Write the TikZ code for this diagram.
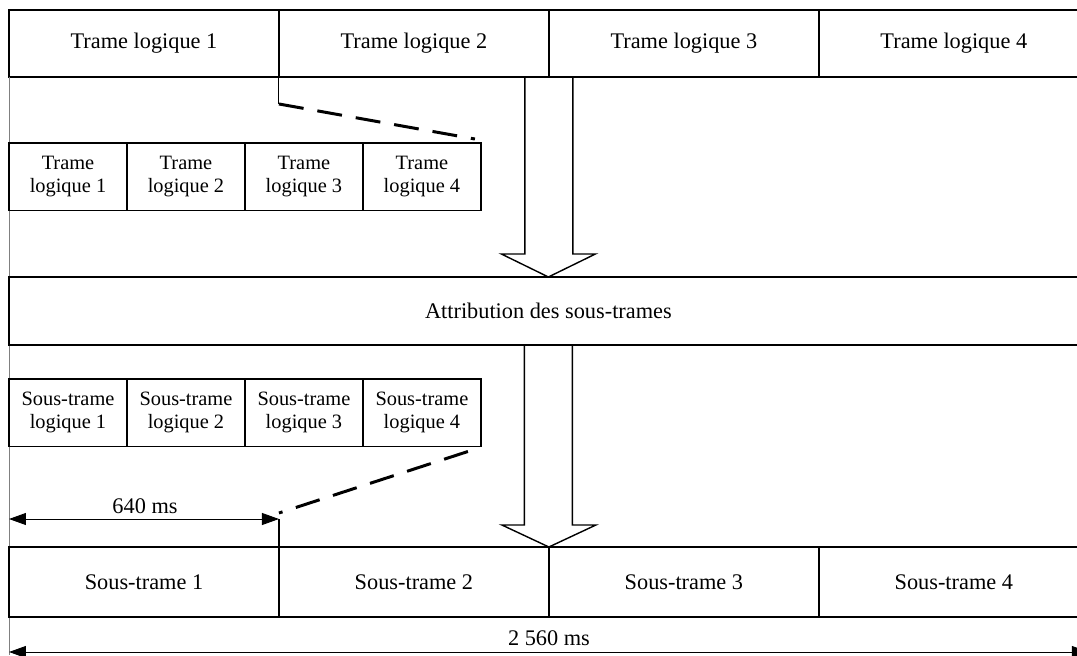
\documentclass[tikz,border=0pt]{standalone}
\usepackage{fontspec}
\setmainfont{Liberation Serif}
\usepackage{tikz}
\usetikzlibrary{arrows.meta,positioning}

\begin{document}
\begin{tikzpicture}[
  x=0.02cm,y=-0.02cm,
  cell/.style={draw,line width=1pt,minimum width=5.4cm,minimum height=1.34cm,
    inner sep=0pt,outer sep=0pt,font=\fontsize{12.7}{15}\selectfont},
  small/.style={draw,line width=0.8pt,minimum width=2.36cm,minimum height=1.35cm,
    inner sep=0pt,outer sep=0pt,align=center,font=\fontsize{11.6}{13.2}\selectfont},
  hollow/.style={draw,line width=0.8pt,line join=miter},
  zoomline/.style={line width=1.7pt,dash pattern=on 0.5cm off 0.28cm},
  dim/.style={{Triangle[length=0.34cm,width=0.24cm]}-{Triangle[length=0.34cm,width=0.24cm]},line width=0.5pt},
  edge/.style={draw=black!50,line width=0.5pt}
]
\useasboundingbox (0,0) rectangle (1077,655);
% logical frames
\node[cell,anchor=north west] (t1) at (9,10) {Trame logique 1};
\node[cell,right=0pt of t1] (t2) {Trame logique 2};
\node[cell,right=0pt of t2] (t3) {Trame logique 3};
\node[cell,right=0pt of t3] (t4) {Trame logique 4};
\draw[edge] (t1.south west) -- (9,655);
% zoom on one logical frame
\node[small,anchor=north west] (s1) at (9,143) {Trame\\logique 1};
\node[small,right=0pt of s1] (s2) {Trame\\logique 2};
\node[small,right=0pt of s2] (s3) {Trame\\logique 3};
\node[small,right=0pt of s3] (s4) {Trame\\logique 4};
\draw[line width=0.6pt] (t2.south west) -- ++(0,27) coordinate (z1);
\draw[zoomline] (z1) -- ([shift={(-6,-4)}]s4.north east);
% allocation
\node[cell,anchor=north west,minimum width=21.58cm,minimum height=1.36cm] (attr) at (9,277) {Attribution des sous-trames};
\draw[hollow] ([shift={(-24,0)}]t2.south east) |- ([shift={(-47,-23)}]attr.north)
  -- (attr.north) -- ([shift={(47,-23)}]attr.north) -| ([shift={(24,0)}]t2.south east);
% logical subframes
\node[small,anchor=north west] (u1) at (9,379) {Sous-trame\\logique 1};
\node[small,right=0pt of u1] (u2) {Sous-trame\\logique 2};
\node[small,right=0pt of u2] (u3) {Sous-trame\\logique 3};
\node[small,right=0pt of u3] (u4) {Sous-trame\\logique 4};
% subframes
\node[cell,anchor=north west,minimum height=1.4cm] (b1) at (9,547) {Sous-trame 1};
\node[cell,right=0pt of b1,minimum height=1.4cm] (b2) {Sous-trame 2};
\node[cell,right=0pt of b2,minimum height=1.4cm] (b3) {Sous-trame 3};
\node[cell,right=0pt of b3,minimum height=1.4cm] (b4) {Sous-trame 4};
\draw[hollow] ([shift={(-24,0)}]attr.south) |- ([shift={(-47,-22)}]b2.north east)
  -- (b2.north east) -- ([shift={(47,-22)}]b2.north east) -| ([shift={(24,0)}]attr.south);
% durations
\coordinate (m1) at ([shift={(0,-28)}]b1.north east);
\draw[zoomline] ([shift={(-13,5)}]u4.south east) -- ([shift={(0,-6)}]m1);
\draw[dim] (m1 -| b1.west) -- (m1);
\draw[line width=1.4pt] (m1) -- (b1.north east);
\node (d640) at (145,506) {\fontsize{12.7}{15}\selectfont 640 ms};
\draw[dim] ([shift={(0,35)}]b1.south west) -- ([shift={(0,35)}]b4.south east);
\node (d2560) at (549,638) {\fontsize{12.7}{15}\selectfont 2 560 ms};
\end{tikzpicture}
\end{document}
